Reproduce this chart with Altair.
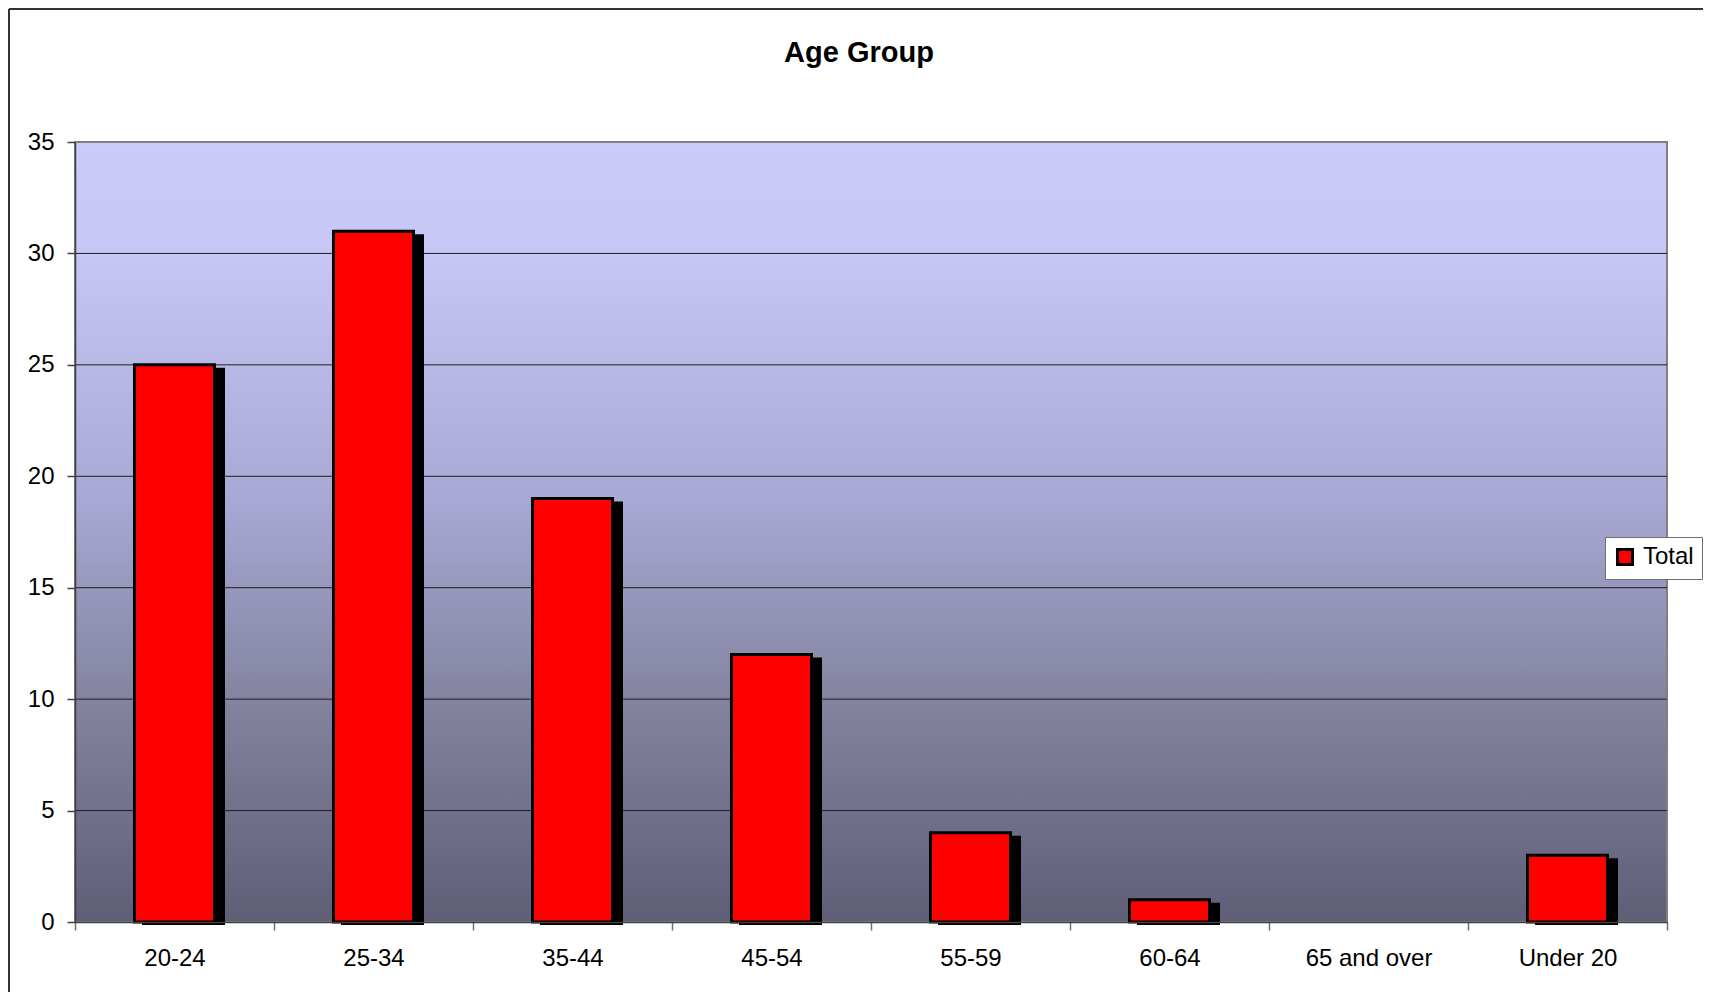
import altair as alt
import pandas as pd

categories = ["20-24", "25-34", "35-44", "45-54", "55-59", "60-64", "65 and over", "Under 20"]
totals = [25, 31, 19, 12, 4, 1, 0, 3]
series_name = "Total"
y_ticks = [0, 5, 10, 15, 20, 25, 30, 35]
grid_values = [5, 10, 15, 20, 25, 30]

W, H = 1592, 780
FONT = "Liberation Sans"

df = pd.DataFrame({"age": categories, "count": totals, "series": [series_name] * len(categories)})
grid_df = pd.DataFrame({"tick": grid_values})
one = pd.DataFrame({"k": [0]})

x_scale = alt.Scale(domain=categories, paddingInner=0, paddingOuter=0)
y_scale = alt.Scale(domain=[0, 35], nice=False, zero=True)

x_axis = alt.Axis(title=None, labelAngle=0, tickBand="extent", tickSize=8, tickColor="#707070",
                  tickWidth=1.5, domainColor="#404040", domainWidth=1.5, labelFontSize=24,
                  labelColor="black", labelPadding=16, grid=False, zindex=1, labelFont=FONT)
y_axis = alt.Axis(title=None, values=y_ticks, grid=False, tickSize=8, tickColor="#404040",
                  tickWidth=1.5, domainColor="#404040", domainWidth=1.5, labelFontSize=24,
                  labelColor="black", labelPadding=13, zindex=1, labelFont=FONT)

gradient = alt.LinearGradient(
    gradient="linear", x1=0, x2=0, y1=0, y2=1,
    stops=[
        alt.GradientStop(offset=0, color="#CBCBFA"),
        alt.GradientStop(offset=0.14, color="#C7C7F5"),
        alt.GradientStop(offset=0.45, color="#A9A9D6"),
        alt.GradientStop(offset=0.72, color="#83839F"),
        alt.GradientStop(offset=1, color="#5E5E77"),
    ],
)

bg = alt.Chart(one).mark_rect(fill=gradient, stroke="#808080", strokeWidth=2).encode(
    x=alt.value(0), x2=alt.value(W), y=alt.value(0), y2=alt.value(H)
)

grid = alt.Chart(grid_df).mark_rule(color="#1e1e1e", strokeWidth=1).encode(
    x=alt.value(0), x2=alt.value(W),
    y=alt.Y("tick:Q", scale=y_scale, axis=y_axis),
)

shadow = alt.Chart(df).transform_filter("datum.count > 0").mark_bar(
    color="black", size=83, xOffset=9, yOffset=3
).encode(
    x=alt.X("age:N", sort=categories, scale=x_scale, axis=x_axis),
    y=alt.Y("count:Q", scale=y_scale, axis=y_axis),
)

bars = alt.Chart(df).transform_filter("datum.count > 0").mark_bar(
    size=80, stroke="black", strokeWidth=3
).encode(
    x=alt.X("age:N", sort=categories, scale=x_scale, axis=x_axis),
    y=alt.Y("count:Q", scale=y_scale, axis=y_axis),
    color=alt.Color(
        "series:N",
        scale=alt.Scale(domain=[series_name], range=["#FF0000"]),
        legend=alt.Legend(
            title=None, orient="none", legendX=1530, legendY=395,
            fillColor="white", strokeColor="#707070", padding=8,
            labelFontSize=24, labelFont=FONT, labelColor="black", labelOffset=6,
            symbolType="square", symbolSize=225, symbolStrokeColor="black",
            symbolStrokeWidth=3, symbolOpacity=1, symbolFillColor="#FF0000",
        ),
    ),
)

frame_left = alt.Chart(one).mark_rule(color="#333333", strokeWidth=2).encode(
    x=alt.value(-66), y=alt.value(-133), y2=alt.value(H + 100)
)
frame_top = alt.Chart(one).mark_rule(color="#333333", strokeWidth=2).encode(
    x=alt.value(-66), x2=alt.value(W + 100), y=alt.value(-133)
)

chart = alt.layer(bg, grid, shadow, bars, frame_left, frame_top).properties(
    width=W, height=H,
    title=alt.Title("Age Group", fontSize=29, font=FONT, fontWeight="bold", color="black",
                    anchor="middle", frame="group", dx=-12, offset=-83, baseline="alphabetic"),
    autosize=alt.AutoSizeParams(type="none"),
    padding={"left": 67, "top": 134, "right": 36, "bottom": 70},
).configure(font=FONT, background="white").configure_view(stroke=None)

chart.save("out.html", embed_options={"renderer": "svg", "actions": False})
